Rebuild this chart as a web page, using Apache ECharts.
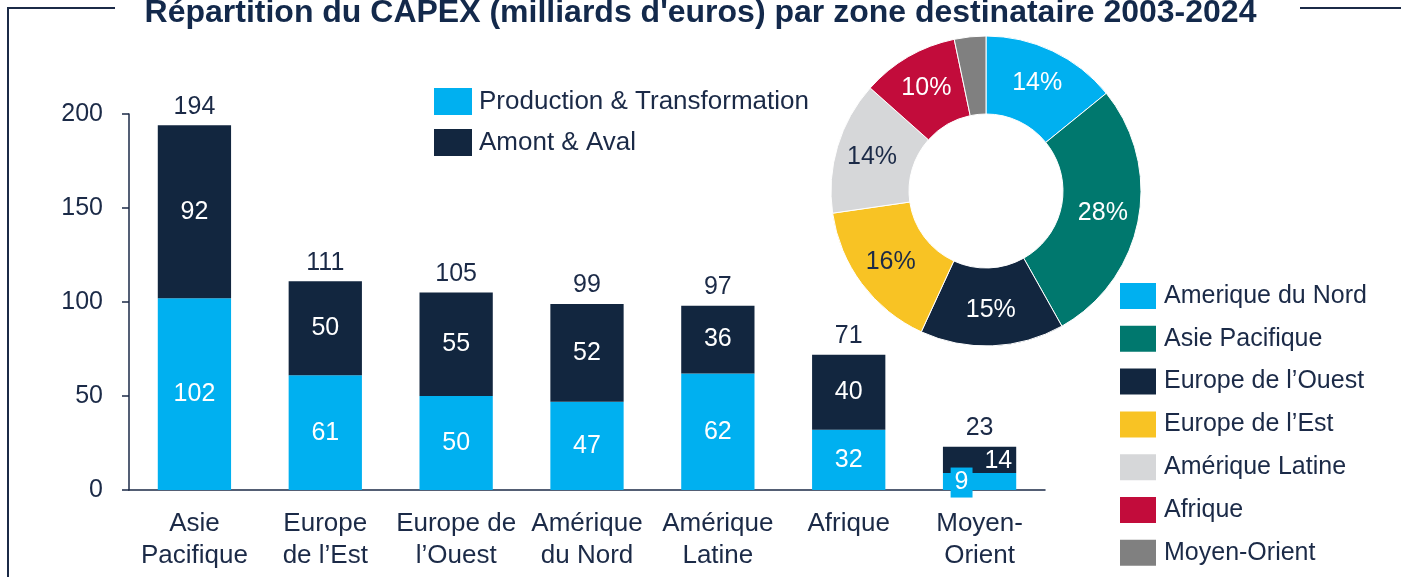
<!DOCTYPE html>
<html>
<head>
<meta charset="utf-8">
<script src="https://cdn.jsdelivr.net/npm/echarts@6/dist/echarts.min.js"></script>
<style>
  html, body { margin: 0; padding: 0; background: #fff; }
  #capex-chart { width: 1401px; height: 577px; }
</style>
</head>
<body>
<div id="capex-chart"></div>
<script>
var categories = ['Asie\nPacifique', 'Europe\nde l\u2019Est', 'Europe de\nl\u2019Ouest', 'Am\u00e9rique\ndu Nord', 'Am\u00e9rique\nLatine', 'Afrique', 'Moyen-\nOrient'];
var production = [102, 61, 50, 47, 62, 32, 9];
var amont = [92, 50, 55, 52, 36, 40, 14];
var totals = [194, 111, 105, 99, 97, 71, 23];
var yTicks = [0, 50, 100, 150, 200];

var zones = ['Amerique du Nord', 'Asie Pacifique', 'Europe de l\u2019Ouest', 'Europe de l\u2019Est', 'Am\u00e9rique Latine', 'Afrique', 'Moyen-Orient'];
var zoneValues = [99, 194, 105, 111, 97, 71, 23];
var zoneColors = ['#00B0F0', '#00786E', '#12263F', '#F8C324', '#D6D7D9', '#C20C3B', '#808080'];
var zoneLabelColors = ['#fff', '#fff', '#fff', '#1B2A47', '#1B2A47', '#fff', '#fff'];

var navy = '#1B2A47';
var font = '"Liberation Sans", Arial, sans-serif';

var dom = document.getElementById('capex-chart');
var myChart = echarts.init(dom, null, { renderer: 'canvas' });

var pieTotal = zoneValues.reduce(function (a, b) { return a + b; }, 0);

var option = {
    backgroundColor: '#fff',
    textStyle: { fontFamily: font },
    animation: false,
    title: {
        text: 'R\u00e9partition du CAPEX (milliards d\'euros) par zone destinataire 2003-2024',
        left: 'center',
        top: -3,
        padding: [0, 0, 0, 16],
        textStyle: { color: '#13294B', fontSize: 32, fontWeight: 'bold', fontFamily: font }
    },
    graphic: [
        { type: 'line', shape: { x1: 8, y1: 8, x2: 8, y2: 577 }, style: { stroke: navy, lineWidth: 2 } },
        { type: 'line', shape: { x1: 7, y1: 8, x2: 115, y2: 8 }, style: { stroke: navy, lineWidth: 2 } },
        { type: 'line', shape: { x1: 1300, y1: 8, x2: 1401, y2: 8 }, style: { stroke: navy, lineWidth: 2 } }
    ],
    legend: [
        {
            data: ['Production & Transformation', 'Amont & Aval'],
            orient: 'vertical',
            left: 429,
            top: 83,
            itemWidth: 38,
            itemHeight: 27,
            itemGap: 14,
            icon: 'rect',
            textStyle: { color: navy, fontSize: 26, lineHeight: 27, fontFamily: font, padding: [0, 0, 0, 2] }
        },
        {
            data: zones,
            orient: 'vertical',
            left: 1113,
            top: 276,
            height: 300,
            itemWidth: 38,
            itemHeight: 28,
            itemGap: 12.8,
            icon: 'rect',
            textStyle: { color: navy, fontSize: 25, lineHeight: 28, fontFamily: font, padding: [0, 0, 0, 2] }
        }
    ],
    grid: { left: 129, right: 356, top: 114, bottom: 87 },
    xAxis: {
        type: 'category',
        data: categories,
        axisTick: { show: false },
        axisLine: { lineStyle: { color: navy, width: 1.5 } },
        axisLabel: { color: navy, fontSize: 26, lineHeight: 32, margin: 18, interval: 0, fontFamily: font }
    },
    yAxis: {
        type: 'value',
        min: yTicks[0],
        max: yTicks[yTicks.length - 1],
        interval: 50,
        splitLine: { show: false },
        axisLine: { show: true, lineStyle: { color: navy, width: 1.5 } },
        axisTick: { show: true, length: 7, lineStyle: { color: navy, width: 1.5 } },
        axisLabel: { color: navy, fontSize: 25, margin: 26, fontFamily: font }
    },
    series: [
        {
            name: 'Production & Transformation',
            type: 'bar',
            stack: 'capex',
            barWidth: '56%',
            itemStyle: { color: '#00B0F0' },
            label: { show: true, position: 'inside', color: '#fff', fontSize: 25, fontFamily: font },
            data: production.map(function (v, i) {
                if (i === production.length - 1) {
                    return {
                        value: v,
                        label: { offset: [-18, 1], backgroundColor: '#00B0F0', padding: [3, 4, 2, 4] }
                    };
                }
                return v;
            })
        },
        {
            name: 'Amont & Aval',
            type: 'bar',
            stack: 'capex',
            itemStyle: { color: '#12263F' },
            label: { show: true, position: 'inside', color: '#fff', fontSize: 25, fontFamily: font },
            data: amont.map(function (v, i) {
                if (i === amont.length - 1) {
                    return { value: v, label: { position: 'insideRight', distance: 4, offset: [0, 1] } };
                }
                return v;
            })
        },
        {
            name: 'Total',
            type: 'bar',
            stack: 'capex',
            itemStyle: { color: 'transparent' },
            label: {
                show: true,
                position: 'top',
                distance: 6,
                color: navy,
                fontSize: 25,
                fontFamily: font,
                formatter: function (p) { return totals[p.dataIndex]; }
            },
            data: totals.map(function () { return 0; })
        },
        {
            name: 'Zones',
            type: 'pie',
            center: [986, 191],
            radius: [77, 155],
            startAngle: 90,
            clockwise: true,
            itemStyle: { borderColor: '#fff', borderWidth: 1 },
            label: {
                show: true,
                position: 'inside',
                fontSize: 25,
                fontFamily: font,
                formatter: function (p) { return Math.round(p.value / pieTotal * 100) + '%'; }
            },
            labelLine: { show: false },
            emphasis: { disabled: true },
            data: zones.map(function (z, i) {
                return {
                    name: z,
                    value: zoneValues[i],
                    itemStyle: { color: zoneColors[i] },
                    label: { color: zoneLabelColors[i], show: i !== zones.length - 1 }
                };
            })
        }
    ]
};

myChart.setOption(option);
window.addEventListener('resize', myChart.resize);
</script>
</body>
</html>
